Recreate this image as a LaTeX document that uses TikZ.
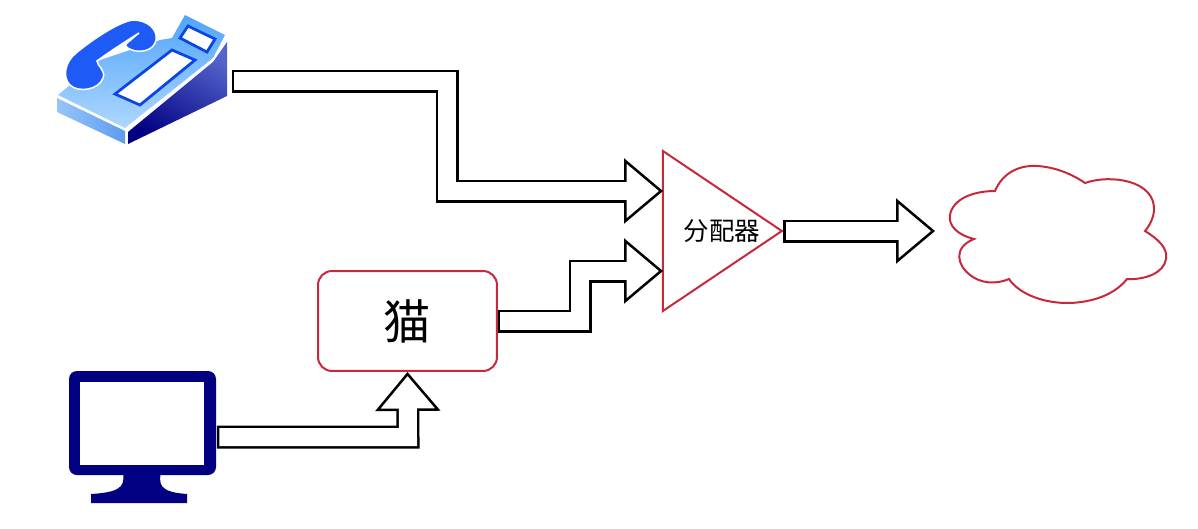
\documentclass[tikz,border=0pt]{standalone}
\usepackage{fontspec}
\usepackage{xcolor}
\usetikzlibrary{arrows.meta}
\usetikzlibrary{shapes.geometric}
\newfontfamily\cjk{Noto Sans CJK SC}
\definecolor{boxred}{RGB}{200, 40, 60}
\definecolor{pcnavy}{RGB}{0, 0, 128}
\definecolor{telblue}{RGB}{30, 90, 245}
\definecolor{telline}{RGB}{10, 70, 230}
\definecolor{telpale}{RGB}{175, 215, 255}
\definecolor{telsky}{RGB}{80, 165, 250}
\definecolor{telside}{RGB}{95, 155, 240}
\definecolor{teldark}{RGB}{85, 100, 205}

\begin{document}
\begin{tikzpicture}[
  x=0.02cm, y=-0.02cm,
  box/.style={rectangle, draw=boxred, line width=0.04cm, rounded corners=0.28cm,
    minimum width=3.58cm, minimum height=2cm, font=\cjk\fontsize{27}{31}\selectfont},
  icon/.style={rectangle, inner sep=0pt, minimum width=3.5cm, minimum height=2.6cm},
  split/.style={isosceles triangle, isosceles triangle stretches, draw=boxred,
    line width=0.04cm, inner sep=0pt, minimum width=3.2cm, minimum height=2.38cm},
  arr/.style={draw=black, line width=0.46cm,
    -{Triangle[open, fill=white, length=0.78cm, width=1.3cm, line width=0.05cm]},
    postaction={draw=white, line width=0.36cm, -, shorten <=0.05cm, shorten >=0.66cm}}
]
  \useasboundingbox (0,0) rectangle (1198,528);

  % phone
  \shade[left color=telpale!70!telside, right color=telside]
    (57,98) -- (125,131) -- (125,144) -- (57,112) -- cycle;
  \shade[bottom color=pcnavy, top color=teldark, shading angle=-30]
    (128,132) -- (128,144) -- (227,96) -- (227,42) -- (213,62) -- cycle;
  \shade[bottom color=telpale, top color=telsky]
    (58,95) -- (125,128) -- (213,58) -- (225,35) -- (185,15) -- (172,38) -- (160,40)
    -- (100,60) -- cycle;
  \fill[telblue, draw=white, line width=0.03cm]
    (133,20) .. controls (148,20) and (158,30) .. (156,40)
    .. controls (154,51) and (140,53) .. (132,50)
    .. controls (126,48) and (124,45) .. (127,43)
    .. controls (131,40) and (135,36) .. (139,33)
    .. controls (128,40) and (112,50) .. (97,61)
    .. controls (97,66) and (106,70) .. (103,78)
    .. controls (99,90) and (78,93) .. (70,85)
    .. controls (62,77) and (65,62) .. (76,53)
    .. controls (92,40) and (118,22) .. (133,20) -- cycle;
  \filldraw[fill=white, draw=telline, line width=0.055cm]
    (115,94) -- (172,50) -- (195,60) -- (140,105) -- cycle;
  \filldraw[fill=white, draw=telline, line width=0.055cm]
    (180,38) -- (188,26) -- (215,39) -- (207,52) -- cycle;
  \node[icon] (phone) at (144,81) {};

  % computer
  \fill[pcnavy, rounded corners=0.16cm] (69,371) rectangle (216,475);
  \fill[white] (80,382) rectangle (204,465);
  \fill[pcnavy] (123,470) .. controls (124,484) and (126,492) .. (91,494)
    -- (91,503) -- (187,503) -- (187,494)
    .. controls (158,492) and (159,484) .. (161,470) -- cycle;
  \node[icon, minimum width=2.96cm] (pc) at (142.5,437) {};

  % cloud
  \draw[boxred, line width=0.04cm]
    (995,191) .. controls (1003,172) and (1020,165) .. (1037,166)
    .. controls (1055,167) and (1072,174) .. (1085,183)
    .. controls (1110,174) and (1156,180) .. (1154,211)
    .. controls (1153,219) and (1150,225) .. (1145,231)
    .. controls (1158,239) and (1168,248) .. (1166,259)
    .. controls (1164,273) and (1145,280) .. (1127,279)
    .. controls (1112,298) and (1085,303) .. (1067,303)
    .. controls (1045,303) and (1020,295) .. (1009,279)
    .. controls (995,285) and (980,283) .. (970,275)
    .. controls (958,266) and (952,248) .. (974,239)
    .. controls (958,235) and (948,226) .. (950,215)
    .. controls (953,198) and (975,191) .. (995,191) -- cycle;
  \coordinate (cloud) at (935,231);

  \node[box] (cat) at (407.5,321) {猫};
  \node[split] (splitter) at (705.5,231) {};
  \node[font=\cjk\fontsize{14.5}{17}\selectfont] (splitlabel) at (722,231) {分配器};
  \coordinate (inA) at (663,191);
  \coordinate (inB) at (663,271);
  \coordinate (outA) at (783,231);

  \draw[arr] (phone.east) -- (447,81) -- (447,191) -- (inA);
  \draw[arr] (cat.east) -- (580,321) -- (580,271) -- (inB);
  \draw[arr] (pc.east) -- (408,437) -- (cat.south);
  \draw[arr] (outA) -- (cloud);
\end{tikzpicture}
\end{document}
